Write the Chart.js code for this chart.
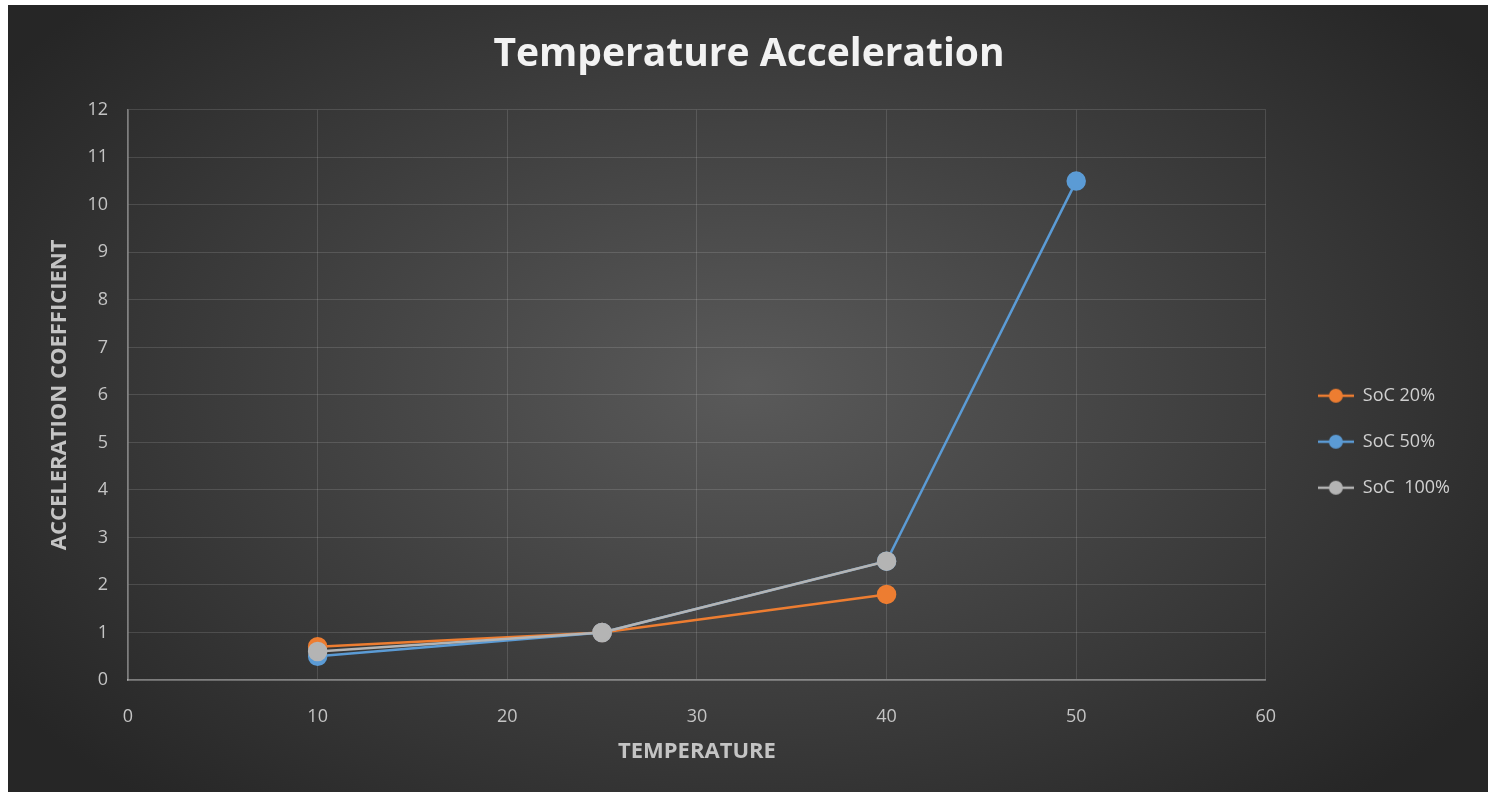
<!DOCTYPE html>
<html>
<head>
<meta charset="utf-8">
<script src="https://cdn.jsdelivr.net/npm/chart.js@4.4.1/dist/chart.umd.min.js"></script>
<style>
  html, body { margin: 0; background: #fff; }
  #wrap { position: absolute; left: 8px; top: 5px; width: 1480px; height: 787px; }
</style>
</head>
<body>
<div id="wrap"><canvas id="c"></canvas></div>
<script>
// data
const names = ['SoC 20%', 'SoC 50%', 'SoC  100%'];
const colors = ['#ED7D31', '#5B9BD5', '#B4B4B4'];
const temp20 = [10, 25, 40];
const coef20 = [0.7, 1.0, 1.8];
const temp50 = [10, 25, 40, 50];
const coef50 = [0.5, 1.0, 2.5, 10.5];
const temp100 = [10, 25, 40];
const coef100 = [0.6, 1.0, 2.5];

function pts(xs, ys){ return xs.map((x, i) => ({ x, y: ys[i] })); }

function legendIcon(color){
  const c = document.createElement('canvas');
  c.width = 36; c.height = 18;
  const g = c.getContext('2d');
  g.strokeStyle = color; g.lineWidth = 2.5;
  g.beginPath(); g.moveTo(0, 9); g.lineTo(36, 9); g.stroke();
  g.fillStyle = color;
  g.beginPath(); g.arc(18, 9, 7, 0, Math.PI * 2); g.fill();
  return c;
}

function makeSet(i, data, order){
  return {
    label: names[i], data, order,
    borderColor: colors[i], backgroundColor: colors[i],
    pointBackgroundColor: colors[i], pointBorderColor: colors[i],
    borderWidth: 2.5, pointRadius: 8.5, pointHoverRadius: 8.5, tension: 0
  };
}

// radial dark background like the office theme
const bg = {
  id: 'bg',
  beforeDraw(chart){
    const { ctx } = chart;
    ctx.save();
    ctx.translate(740, 380);
    ctx.scale(1, 0.62);
    const g = ctx.createRadialGradient(0, 0, 0, 0, 0, 900);
    g.addColorStop(0, '#5a5a5a');
    g.addColorStop(1, '#262626');
    ctx.fillStyle = g;
    ctx.fillRect(-800, -800, 1700, 1700);
    ctx.restore();
  }
};

const tickFont = { family: 'Open Sans', size: 18 };
const axisTitleFont = { family: 'Open Sans', size: 22, weight: 'bold' };

new Chart(document.getElementById('c'), {
  type: 'line',
  data: {
    datasets: [
      makeSet(0, pts(temp20, coef20), 2),
      makeSet(1, pts(temp50, coef50), 1),
      makeSet(2, pts(temp100, coef100), 0)
    ]
  },
  plugins: [bg],
  options: {
    responsive: true,
    maintainAspectRatio: false,
    animation: false,
    layout: { padding: { left: 30, right: 28, top: 0, bottom: 0 } },
    plugins: {
      title: {
        display: true,
        text: 'Temperature Acceleration',
        color: '#f2f2f2',
        font: { family: 'Open Sans', size: 39, weight: 'bold' },
        padding: { top: 26, bottom: 32 }
      },
      legend: {
        position: 'right',
        // empty title only pushes the entries down to where the reference has them
        title: { display: true, text: ' ', font: { size: 12 }, padding: 36 },
        labels: {
          color: '#d0d0d0',
          font: { family: 'Open Sans', size: 18 },
          usePointStyle: true,
          pointStyleWidth: 36,
          padding: 28,
          sort: (a, b) => a.datasetIndex - b.datasetIndex,
          generateLabels(chart){
            const items = Chart.defaults.plugins.legend.labels.generateLabels(chart);
            items.forEach(it => { it.pointStyle = legendIcon(colors[it.datasetIndex]); });
            return items;
          }
        }
      },
      tooltip: { enabled: false }
    },
    scales: {
      x: {
        type: 'linear', min: 0, max: 60,
        ticks: { stepSize: 10, color: '#c4c4c4', font: tickFont, padding: 26 },
        grid: { color: 'rgba(255,255,255,0.13)', drawTicks: false },
        border: { color: 'rgba(255,255,255,0.38)', width: 1.5 },
        title: { display: true, text: 'TEMPERATURE', color: '#c4c4c4', font: axisTitleFont, padding: { top: 0, bottom: 27 } },
        afterFit(s){ s.height = 112; }
      },
      y: {
        position: 'left', min: 0, max: 12,
        ticks: { stepSize: 1, color: '#c4c4c4', font: tickFont, padding: 20 },
        grid: { color: 'rgba(255,255,255,0.13)', drawTicks: false },
        border: { color: 'rgba(255,255,255,0.38)', width: 1.5 },
        title: { display: true, text: 'ACCELERATION COEFFICIENT', color: '#c4c4c4', font: axisTitleFont, padding: { top: 9, bottom: 0 } },
        afterFit(s){ s.width = 90; }
      },
      gap: {
        axis: 'y', position: 'right',
        ticks: { display: false }, grid: { display: false }, border: { display: false },
        afterFit(s){ s.width = 24; }
      }
    }
  }
});
</script>
</body>
</html>
